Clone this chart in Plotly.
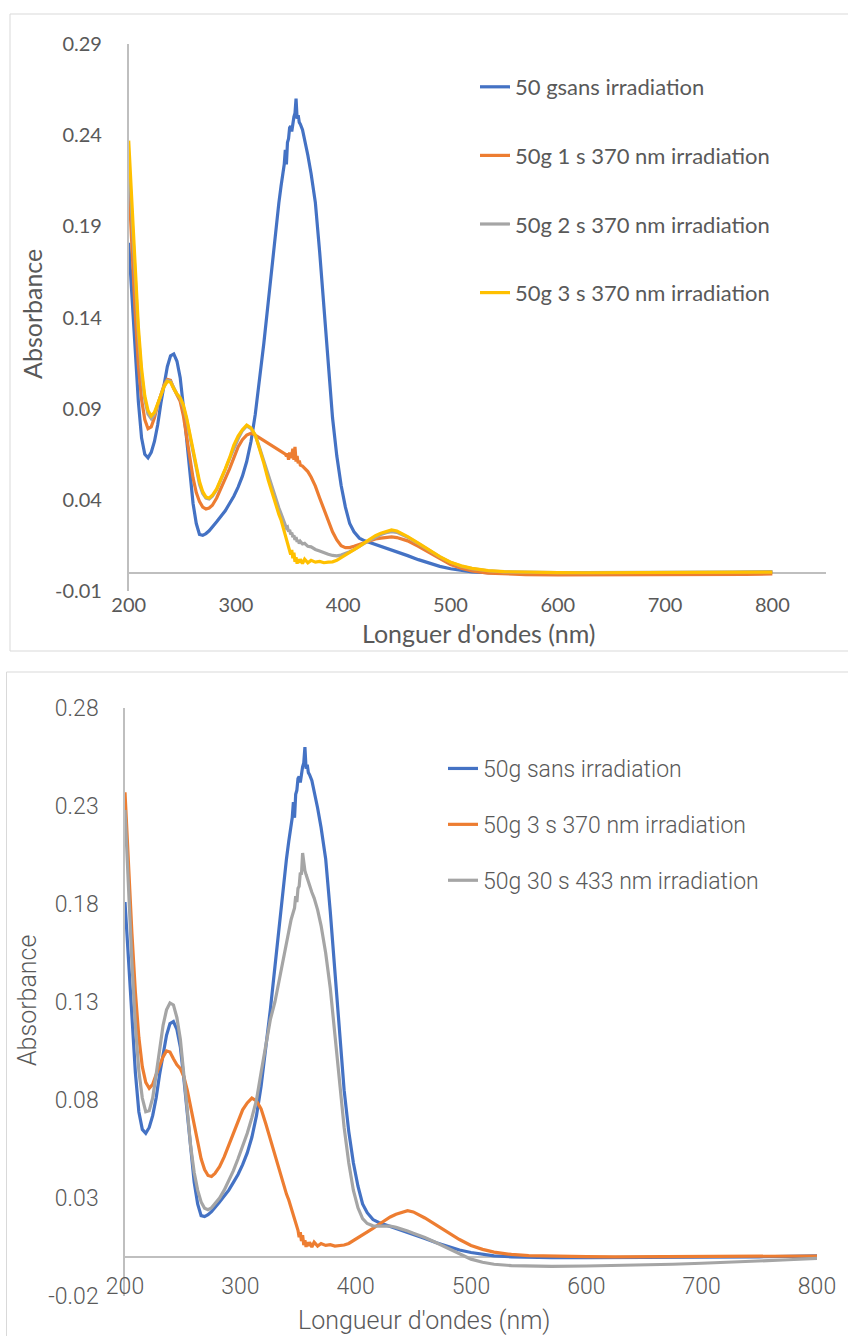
import plotly.graph_objects as go

# ---------------- data ----------------
wavelength = [200, 203, 206, 209, 212, 215, 218, 221, 224, 227, 230, 233, 236, 239, 242, 245, 248, 251, 254, 257, 260, 263, 266, 269, 272, 275, 278,
              282, 286, 290, 294, 298, 302, 306, 310, 314, 318, 322, 326, 330, 334, 338,
              340, 342, 344,
              345, 346, 347, 348, 349, 350, 351, 352, 353, 354, 355, 356, 357, 358, 359, 360,
              362, 364, 367, 370, 374, 378, 382, 386, 390, 394, 398, 402, 406, 410,
              415, 420, 425, 430, 435, 440, 445, 450, 455, 460,
              470, 480, 490, 500, 510, 520,
              535, 550, 570, 600,
              625, 650, 675, 700, 725, 750, 775, 800]

abs_sans = [0.181, 0.152, 0.124, 0.094, 0.074, 0.065, 0.063, 0.066, 0.072, 0.081, 0.093, 0.104, 0.113, 0.119, 0.120, 0.116, 0.107, 0.091, 0.072, 0.054, 0.038, 0.027, 0.021, 0.0205, 0.0215, 0.023, 0.025,
            0.028, 0.031, 0.034, 0.038, 0.042, 0.047, 0.053, 0.061, 0.072, 0.087, 0.105, 0.126, 0.148, 0.171, 0.192,
            0.203, 0.212, 0.220,
            0.224, 0.232, 0.224, 0.236, 0.238, 0.244, 0.245, 0.242, 0.248, 0.250, 0.252, 0.260, 0.249, 0.251, 0.247, 0.246,
            0.243, 0.238, 0.229, 0.219, 0.203, 0.176, 0.145, 0.112, 0.085, 0.064, 0.048, 0.036, 0.027, 0.0225,
            0.019, 0.0175, 0.0165, 0.0155, 0.0147, 0.0138, 0.0128, 0.0117, 0.0105, 0.0094,
            0.0072, 0.0052, 0.0035, 0.0022, 0.0012, 0.0005,
            0.0, -0.0003, -0.0004, -0.0004,
            -0.0004, -0.0004, -0.0003, -0.0003, -0.0002, 0.0, 0.0002, 0.0005]

abs_1s_370 = [0.215, 0.178, 0.143, 0.114, 0.095, 0.084, 0.079, 0.080, 0.085, 0.092, 0.098, 0.103, 0.106, 0.1055, 0.101, 0.0975, 0.094, 0.086, 0.075, 0.063, 0.052, 0.044, 0.039, 0.036, 0.035, 0.0355, 0.037,
              0.041, 0.046, 0.051, 0.057, 0.063, 0.069, 0.073, 0.0755, 0.0765, 0.0755, 0.074, 0.0725, 0.071, 0.0695, 0.068,
              0.0675, 0.067, 0.066,
              0.0655, 0.065, 0.064, 0.0655, 0.062, 0.066, 0.063, 0.0645, 0.068, 0.062, 0.069, 0.061, 0.064, 0.060, 0.0615, 0.059,
              0.0585, 0.0575, 0.0555, 0.0525, 0.0475, 0.041, 0.035, 0.0285, 0.0225, 0.018, 0.0148, 0.0138, 0.0138, 0.0145,
              0.0155, 0.0165, 0.0175, 0.0185, 0.019, 0.0195, 0.0197, 0.0193, 0.0185, 0.0175,
              0.0145, 0.011, 0.0075, 0.0045, 0.0025, 0.001,
              -0.0002, -0.0007, -0.001, -0.0012,
              -0.0012, -0.0013, -0.0012, -0.0013, -0.0012, -0.001, -0.0009, -0.0006]

abs_2s_370 = [0.228, 0.193, 0.160, 0.131, 0.109, 0.095, 0.087, 0.0845, 0.087, 0.092, 0.098, 0.1025, 0.1055, 0.105, 0.1015, 0.098, 0.0955, 0.091, 0.084, 0.075, 0.065, 0.056, 0.0485, 0.0435, 0.041, 0.0405, 0.042,
              0.0455, 0.0505, 0.0565, 0.0625, 0.0685, 0.0735, 0.078, 0.0805, 0.079, 0.0755, 0.0685, 0.061, 0.053, 0.0455, 0.039,
              0.0355, 0.0325, 0.029,
              0.028, 0.0265, 0.0245, 0.025, 0.0225, 0.0235, 0.021, 0.022, 0.0195, 0.0205, 0.018, 0.0195, 0.017, 0.018, 0.016, 0.0172,
              0.0158, 0.0162, 0.0145, 0.0142, 0.0128, 0.012, 0.011, 0.0102, 0.0095, 0.0093, 0.0097, 0.0105, 0.0115, 0.0127,
              0.0143, 0.0162, 0.018, 0.0197, 0.021, 0.022, 0.0226, 0.0222, 0.021, 0.0195,
              0.016, 0.0123, 0.0087, 0.0057, 0.0036, 0.0023,
              0.0011, 0.0005, 0.0002, 0.0001,
              0.0001, 0.0001, 0.0001, 0.0002, 0.0002, 0.0003, 0.0004, 0.0005]

abs_3s_370 = [0.237, 0.200, 0.165, 0.135, 0.112, 0.097, 0.089, 0.086, 0.088, 0.093, 0.098, 0.102, 0.105, 0.1045, 0.101, 0.098, 0.096, 0.092, 0.085, 0.0765, 0.067, 0.058, 0.050, 0.0445, 0.0415, 0.041, 0.0425,
              0.046, 0.051, 0.057, 0.063, 0.070, 0.075, 0.0785, 0.081, 0.0795, 0.0755, 0.068, 0.060, 0.051, 0.043, 0.036,
              0.032, 0.029, 0.025,
              0.023, 0.021, 0.019, 0.017, 0.015, 0.0135, 0.010, 0.0125, 0.008, 0.011, 0.006, 0.0085, 0.005, 0.0075, 0.0055, 0.0075,
              0.005, 0.0075, 0.0055, 0.0068, 0.0058, 0.0062, 0.0055, 0.0058, 0.006, 0.0068, 0.0082, 0.0098, 0.0113, 0.0128,
              0.0145, 0.0165, 0.0185, 0.0203, 0.0217, 0.0228, 0.0235, 0.0229, 0.0215, 0.0198,
              0.0162, 0.0125, 0.0088, 0.0058, 0.0038, 0.0024,
              0.0012, 0.0006, 0.0003, 0.0001,
              0.0, 0.0001, 0.0, 0.0001, 0.0002, 0.0002, 0.0003, 0.0004]

abs_30s_433 = [0.228, 0.188, 0.150, 0.118, 0.095, 0.081, 0.074, 0.0745, 0.081, 0.093, 0.106, 0.118, 0.126, 0.1295, 0.1285, 0.122, 0.111, 0.094, 0.075, 0.056, 0.043, 0.034, 0.028, 0.0248, 0.024, 0.025, 0.027,
               0.030, 0.034, 0.039, 0.044, 0.050, 0.056, 0.063, 0.071, 0.080, 0.094, 0.108, 0.121, 0.130, 0.142, 0.155,
               0.162, 0.168, 0.172,
               0.174, 0.177, 0.178, 0.184, 0.181, 0.188, 0.189, 0.196, 0.195, 0.206, 0.200, 0.197, 0.195, 0.193, 0.191, 0.189,
               0.186, 0.183, 0.177, 0.169, 0.155, 0.137, 0.112, 0.088, 0.066, 0.048, 0.034, 0.025, 0.0195, 0.017,
               0.0158, 0.0156, 0.0157, 0.0157, 0.015, 0.0143, 0.0132, 0.012, 0.011, 0.0098,
               0.0072, 0.0045, 0.0015, -0.0012, -0.0028, -0.0038,
               -0.0045, -0.0048, -0.0049, -0.0047,
               -0.0045, -0.0042, -0.0038, -0.0033, -0.0028, -0.0022, -0.0015, -0.0008]

top_names = ["50 gsans irradiation", "50g 1 s 370 nm irradiation",
             "50g 2 s 370 nm irradiation", "50g 3 s 370 nm irradiation"]
bottom_names = ["50g sans irradiation", "50g 3 s 370 nm irradiation",
                "50g 30 s 433 nm irradiation"]
x_ticks = [200, 300, 400, 500, 600, 700, 800]
y_ticks_top = [-0.01, 0.04, 0.09, 0.14, 0.19, 0.24, 0.29]
y_labels_top = ["-0.01", "0.04", "0.09", "0.14", "0.19", "0.24", "0.29"]
y_ticks_bottom = [-0.02, 0.03, 0.08, 0.13, 0.18, 0.23, 0.28]
y_labels_bottom = ["-0.02", "0.03", "0.08", "0.13", "0.18", "0.23", "0.28"]
x_title_top = "Longuer d'ondes (nm)"
x_title_bottom = "Longueur d'ondes (nm)"
y_title = "Absorbance"

# ---------------- styling ----------------
BLUE, ORANGE, GRAY, YELLOW = "#4472C4", "#ED7D31", "#A5A5A5", "#FFC000"
TXT = "#595959"
AX = "#BFBFBF"
W, H = 848, 1336
FONT_TOP = "Lato"
FONT_BOT = "Roboto"

fig = go.Figure()

top_series = [(abs_sans, BLUE), (abs_1s_370, ORANGE), (abs_2s_370, GRAY), (abs_3s_370, YELLOW)]
for i, ((vals, col), name) in enumerate(zip(top_series, top_names)):
    fig.add_trace(go.Scatter(x=wavelength, y=vals, mode="lines", name=name,
                             line=dict(color=col, width=3.2), xaxis="x", yaxis="y",
                             legend="legend", legendgroup="t%d" % i, hoverinfo="skip"))

bottom_series = [(abs_sans, BLUE), (abs_3s_370, ORANGE), (abs_30s_433, GRAY)]
for i, ((vals, col), name) in enumerate(zip(bottom_series, bottom_names)):
    fig.add_trace(go.Scatter(x=wavelength, y=vals, mode="lines", name=name,
                             line=dict(color=col, width=3.2), xaxis="x2", yaxis="y2",
                             legend="legend2", legendgroup="b%d" % i, hoverinfo="skip"))

def px_x(p):
    return p / W

def px_y(p):
    return 1 - p / H

fig.update_layout(
    width=W, height=H,
    margin=dict(l=0, r=0, t=0, b=0),
    paper_bgcolor="white", plot_bgcolor="white",
    showlegend=True,
    xaxis=dict(domain=[px_x(128.7), px_x(826)], range=[200, 850], anchor="y",
               tickvals=x_ticks, showgrid=False,
               zeroline=False, showline=False, ticks="",
               tickfont=dict(family=FONT_TOP, size=20, color=TXT),
               ticklabelstandoff=0, automargin=False),
    yaxis=dict(domain=[px_y(591), px_y(44)], range=[-0.01, 0.29], anchor="x",
               tickvals=y_ticks_top, ticktext=y_labels_top, showgrid=False,
               zeroline=True, zerolinecolor=AX, zerolinewidth=1.5,
               showline=True, linecolor=AX, linewidth=1.5, ticks="",
               tickfont=dict(family=FONT_TOP, size=20, color=TXT),
               ticklabelstandoff=21, automargin=False),
    xaxis2=dict(domain=[px_x(125), px_x(817)], range=[200, 800], anchor="y2",
                tickvals=x_ticks, showgrid=False,
                zeroline=False, showline=False, ticks="",
                tickfont=dict(family=FONT_BOT, size=23, color=TXT, weight=300),
                ticklabelstandoff=-26, automargin=False),
    yaxis2=dict(domain=[px_y(1296), px_y(708)], range=[-0.02, 0.28], anchor="x2",
                tickvals=y_ticks_bottom, ticktext=y_labels_bottom, showgrid=False,
                zeroline=True, zerolinecolor=AX, zerolinewidth=1.5,
                showline=True, linecolor=AX, linewidth=1.5, ticks="",
                tickfont=dict(family=FONT_BOT, size=23, color=TXT, weight=300),
                ticklabelstandoff=20, automargin=False),
    legend=dict(x=px_x(475), y=px_y(66), xanchor="left", yanchor="top",
                font=dict(family=FONT_TOP, size=22, color=TXT),
                tracegroupgap=37, bgcolor="rgba(0,0,0,0)"),
    legend2=dict(x=px_x(443), y=px_y(747), xanchor="left", yanchor="top",
                 font=dict(family=FONT_BOT, size=23, color=TXT, weight=300),
                 tracegroupgap=23, bgcolor="rgba(0,0,0,0)"),
    shapes=[
        dict(type="rect", xref="paper", yref="paper",
             x0=px_x(10), x1=1.02, y0=px_y(651), y1=px_y(14),
             line=dict(color="#D9D9D9", width=1), fillcolor="rgba(0,0,0,0)", layer="below"),
        dict(type="rect", xref="paper", yref="paper",
             x0=px_x(6.5), x1=1.02, y0=-0.02, y1=px_y(672),
             line=dict(color="#D9D9D9", width=1), fillcolor="rgba(0,0,0,0)", layer="below"),
    ],
    annotations=[
        dict(text=x_title_top, xref="paper", yref="paper", x=px_x(479), y=px_y(633),
             showarrow=False, xanchor="center", yanchor="middle",
             font=dict(family=FONT_TOP, size=25, color=TXT)),
        dict(text=y_title, xref="paper", yref="paper", x=px_x(32), y=px_y(314),
             showarrow=False, xanchor="center", yanchor="middle", textangle=-90,
             font=dict(family=FONT_TOP, size=25, color=TXT)),
        dict(text=x_title_bottom, xref="paper", yref="paper", x=px_x(424), y=px_y(1320),
             showarrow=False, xanchor="center", yanchor="middle",
             font=dict(family=FONT_BOT, size=25, color=TXT, weight=300)),
        dict(text=y_title, xref="paper", yref="paper", x=px_x(27), y=px_y(1001),
             showarrow=False, xanchor="center", yanchor="middle", textangle=-90,
             font=dict(family=FONT_BOT, size=25, color=TXT, weight=300)),
    ],
)

fig.write_html("out.html", config={"displayModeBar": False},
               post_script="document.body.style.margin='0px';")
